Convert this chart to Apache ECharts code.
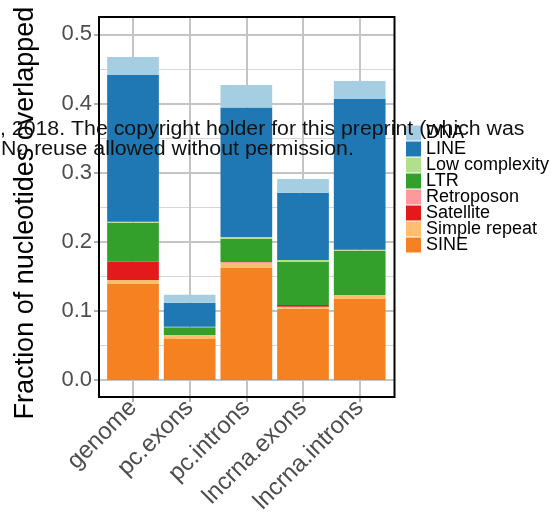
<!DOCTYPE html>
<html>
<head>
<meta charset="utf-8">
<script src="https://cdn.jsdelivr.net/npm/echarts@6/dist/echarts.min.js"></script>
<style>
  html, body { margin: 0; padding: 0; background: #ffffff; }
  #chart { width: 553px; height: 521px; }
</style>
</head>
<body>
<div id="chart"></div>
<script>
// Categories along the x axis
const categories = ['genome', 'pc.exons', 'pc.introns', 'lncrna.exons', 'lncrna.introns'];

// Fraction of nucleotides overlapped, per repeat class (stack order: bottom to top)
const SINE          = [0.139,  0.0593, 0.162,  0.1032, 0.1172];
const simpleRepeat  = [0.0056, 0.0057, 0.0072, 0.0028, 0.0057];
const satellite     = [0.0265, 0,      0,      0.0025, 0     ];
const retroposon    = [0,      0,      0.0015, 0,      0     ];
const LTR           = [0.0564, 0.0112, 0.0333, 0.0622, 0.0641];
const lowComplexity = [0.0015, 0.0008, 0.0028, 0.0029, 0.0015];
const LINE          = [0.212,  0.0347, 0.1872, 0.0974, 0.2179];
const DNA           = [0.026,  0.0115, 0.0327, 0.0196, 0.0261];

// Legend order (top to bottom)
const legendOrder = ['DNA', 'LINE', 'Low complexity', 'LTR', 'Retroposon', 'Satellite', 'Simple repeat', 'SINE'];

// Y tick range
const yMin = 0, yMax = 0.5, yStep = 0.1;

const stackSeries = [
  { name: 'SINE',           data: SINE,          color: '#F68121' },
  { name: 'Simple repeat',  data: simpleRepeat,  color: '#FDBF6F' },
  { name: 'Satellite',      data: satellite,     color: '#E31A1C' },
  { name: 'Retroposon',     data: retroposon,    color: '#FB9A99' },
  { name: 'LTR',            data: LTR,           color: '#33A02C' },
  { name: 'Low complexity', data: lowComplexity, color: '#B2DF8A' },
  { name: 'LINE',           data: LINE,          color: '#1F78B4' },
  { name: 'DNA',            data: DNA,           color: '#A6CEE3' }
];

// Panel geometry (px)
const panel = { left: 99, top: 17, width: 295.5, height: 380 };
const zeroY = 380;          // pixel row of value 0
const pxPerUnit = 691.4;    // pixels per 1.0 on the y scale
const bandWidth = 56.67;    // width of one category band
const FONT = 'Liberation Sans, Arial, Helvetica, sans-serif';
const GRID_COL = '#c4c4c4';

const chart = echarts.init(document.getElementById('chart'), null, { renderer: 'canvas' });

const panelBottom = panel.top + panel.height;
const barLeft = panel.left + 0.1 * bandWidth;

const option = {
  animation: false,
  backgroundColor: '#ffffff',
  grid: [
    // value grid: spans the full panel width, 0..0.5 vertically
    {
      left: panel.left, width: panel.width,
      top: zeroY - yMax * pxPerUnit, height: yMax * pxPerUnit
    },
    // bar grid: category bands inset by the panel expansion, full panel height
    {
      left: barLeft, width: bandWidth * categories.length,
      top: panel.top, height: panel.height
    },
    // vertical grid lines: from the first to the last category centre
    {
      left: barLeft + bandWidth / 2, width: bandWidth * (categories.length - 1),
      top: panel.top, height: panel.height
    }
  ],
  xAxis: [
    { type: 'value', gridIndex: 0, show: false, min: 0, max: 1 },
    {
      type: 'category', gridIndex: 1, data: categories,
      axisLine: { show: false, onZero: false },
      axisTick: { show: true, alignWithLabel: true, length: 5, lineStyle: { color: '#b0b0b0', width: 2 } },
      axisLabel: {
        interval: 0, rotate: 45, margin: 7,
        color: '#4d4d4d', fontSize: 24, fontFamily: FONT
      },
      splitLine: { show: false }
    },
    {
      type: 'category', gridIndex: 2, data: categories, boundaryGap: false,
      axisLine: { show: false, onZero: false },
      axisTick: { show: false },
      axisLabel: { show: false },
      splitLine: { show: true, interval: 0, lineStyle: { color: GRID_COL, width: 2 } }
    }
  ],
  yAxis: [
    {
      type: 'value', gridIndex: 0, min: yMin, max: yMax, interval: yStep,
      axisLine: { show: false },
      axisTick: { show: true, length: 5, lineStyle: { color: '#b0b0b0', width: 2 } },
      axisLabel: {
        formatter: v => v.toFixed(1), margin: 7,
        color: '#4d4d4d', fontSize: 22, fontFamily: FONT
      },
      splitLine: { show: true, lineStyle: { color: GRID_COL, width: 2 } },
      minorTick: { show: false, splitNumber: 2 },
      minorSplitLine: { show: true, lineStyle: { color: '#d6d6d6', width: 1 } }
    },
    {
      type: 'value', gridIndex: 1, show: false,
      min: (zeroY - panelBottom) / pxPerUnit,
      max: (zeroY - panel.top) / pxPerUnit,
      splitLine: { show: false }
    },
    {
      type: 'value', gridIndex: 2, show: false, min: 0, max: 1,
      splitLine: { show: false }
    }
  ],
  legend: {
    orient: 'vertical',
    left: 406, top: 124,
    padding: 0,
    itemWidth: 15, itemHeight: 15, itemGap: -2,
    icon: 'rect',
    selectedMode: false,
    data: legendOrder,
    textStyle: { fontSize: 18, color: '#000', fontFamily: FONT }
  },
  series: stackSeries.map(s => ({
    name: s.name,
    type: 'bar',
    stack: 'total',
    xAxisIndex: 1, yAxisIndex: 1,
    barWidth: 51.7,
    z: 3,
    itemStyle: { color: s.color },
    emphasis: { disabled: true },
    data: s.data
  })),
  graphic: [
    // panel frame
    {
      type: 'rect', z: 100, silent: true,
      shape: { x: panel.left, y: panel.top, width: panel.width, height: panel.height },
      style: { fill: null, stroke: '#000', lineWidth: 2 }
    },
    // y axis title
    {
      type: 'text', z: 100, silent: true,
      x: 26, y: 213, rotation: Math.PI / 2,
      style: {
        text: 'Fraction of nucleotides overlapped',
        font: '27px ' + FONT, fill: '#000',
        align: 'center', verticalAlign: 'middle'
      }
    },
    // preprint notice overlaid on the figure
    {
      type: 'text', z: 110, silent: true,
      x: 0, y: 119, scaleX: 1.065,
      style: {
        text: ', 2018. The copyright holder for this preprint (which was',
        font: '20px ' + FONT, fill: '#111',
        align: 'left', verticalAlign: 'top'
      }
    },
    {
      type: 'text', z: 110, silent: true,
      x: 1, y: 139, scaleX: 1.065,
      style: {
        text: 'No reuse allowed without permission.',
        font: '20px ' + FONT, fill: '#111',
        align: 'left', verticalAlign: 'top'
      }
    }
  ]
};

chart.setOption(option);
</script>
</body>
</html>
